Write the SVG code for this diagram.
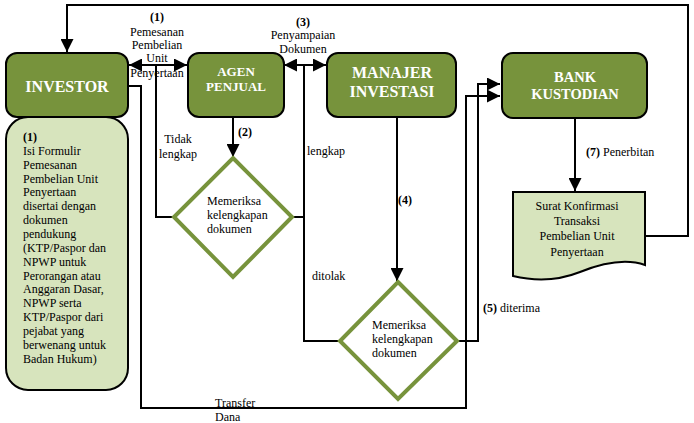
<svg xmlns="http://www.w3.org/2000/svg" width="694" height="423" viewBox="0 0 694 423" font-family="'Liberation Serif', 'Times New Roman', 'DejaVu Serif', serif">
<defs>
<style>
.box{fill:#77933C;stroke:#000;stroke-width:2}
.lite{fill:#D7E4BD;stroke:#000;stroke-width:2}
.dia{fill:#fff;stroke:#77933C;stroke-width:4}
.ln{fill:none;stroke:#000;stroke-width:2}
.hd{font-weight:bold;fill:#fff;text-anchor:middle}
.t{font-size:12px;fill:#000}
.c{text-anchor:middle}
.b{font-weight:bold}
</style>
<marker id="ah" viewBox="0 0 12 12" refX="12" refY="6" markerWidth="13" markerHeight="13" markerUnits="userSpaceOnUse" orient="auto-start-reverse">
<path d="M0,0 L12,6 L0,12 Z" fill="#000"/>
</marker>
</defs>
<g id="connectors">
<path class="ln" d="M642,236 H688 V5 H67 V52" marker-end="url(#ah)"/>
<path class="ln" d="M129,65 H187" marker-start="url(#ah)" marker-end="url(#ah)"/>
<path class="ln" d="M284,65 H326" marker-start="url(#ah)" marker-end="url(#ah)"/>
<path class="ln" d="M233,118 V157" marker-end="url(#ah)"/>
<path class="ln" d="M175,217 H156 V65"/>
<path class="ln" d="M291,217 H304 V65"/>
<path class="ln" d="M304,217 V341 H339"/>
<path class="ln" d="M397,118 V281" marker-end="url(#ah)"/>
<path class="ln" d="M457,341 H478 V84 H500" marker-end="url(#ah)"/>
<path class="ln" d="M129,86 H141 V408 H466 V96 H500" marker-end="url(#ah)"/>
<path class="ln" d="M575,118 V191" marker-end="url(#ah)"/>
</g>
<g id="investor">
<rect class="box" x="6" y="53" width="122" height="64" rx="11"/>
<text class="hd" x="67" y="92" font-size="16">INVESTOR</text>
</g>
<g id="investor-note">
<rect class="lite" x="6" y="117" width="122" height="273" rx="22"/>
<text class="t" x="23" y="141"><tspan class="b">(1)</tspan><tspan x="23" dy="13.85">Isi Formulir</tspan><tspan x="23" dy="13.85">Pemesanan</tspan><tspan x="23" dy="13.85">Pembelian Unit</tspan><tspan x="23" dy="13.85">Penyertaan</tspan><tspan x="23" dy="13.85">disertai dengan</tspan><tspan x="23" dy="13.85">dokumen</tspan><tspan x="23" dy="13.85">pendukung</tspan><tspan x="23" dy="13.85">(KTP/Paspor dan</tspan><tspan x="23" dy="13.85">NPWP untuk</tspan><tspan x="23" dy="13.85">Perorangan atau</tspan><tspan x="23" dy="13.85">Anggaran Dasar,</tspan><tspan x="23" dy="13.85">NPWP serta</tspan><tspan x="23" dy="13.85">KTP/Paspor dari</tspan><tspan x="23" dy="13.85">pejabat yang</tspan><tspan x="23" dy="13.85">berwenang untuk</tspan><tspan x="23" dy="13.85">Badan Hukum)</tspan></text>
</g>
<g id="agen">
<rect class="box" x="188" y="53" width="96" height="64" rx="11"/>
<text class="hd" x="236" y="76" font-size="13">AGEN</text>
<text class="hd" x="236" y="91" font-size="13">PENJUAL</text>
</g>
<g id="manajer">
<rect class="box" x="327" y="53" width="129" height="64" rx="11"/>
<text class="hd" x="392" y="78" font-size="16">MANAJER</text>
<text class="hd" x="392" y="97" font-size="16">INVESTASI</text>
</g>
<g id="bank">
<rect class="box" x="502" y="53" width="145" height="65" rx="11"/>
<text class="hd" x="575" y="82" font-size="14.5">BANK</text>
<text class="hd" x="575" y="99" font-size="14.5">KUSTODIAN</text>
</g>
<g id="cek1">
<path class="dia" d="M233,158 L292,217 L233,277 L174,217 Z"/>
<text class="t" x="207" y="205">Memeriksa</text>
<text class="t" x="207" y="219">kelengkapan</text>
<text class="t" x="207" y="233">dokumen</text>
</g>
<g id="cek2">
<path class="dia" d="M398,282 L457,341 L398,399 L340,341 Z"/>
<text class="t" x="372" y="329">Memeriksa</text>
<text class="t" x="372" y="343">kelengkapan</text>
<text class="t" x="372" y="357">dokumen</text>
</g>
<g id="surat">
<path class="lite" d="M513,192 H645 V265 C625,258 600,264 580,272 C560,280 538,282 513,276 Z"/>
<text class="t c" font-size="13" x="577" y="210">Surat Konfirmasi</text>
<text class="t c" font-size="13" x="577" y="225">Transaksi</text>
<text class="t c" font-size="13" x="577" y="240">Pembelian Unit</text>
<text class="t c" font-size="13" x="577" y="256">Penyertaan</text>
</g>
<g id="labels">
<text class="t c b" x="157" y="21">(1)</text>
<text class="t c" x="157" y="36">Pemesanan</text>
<text class="t c" x="157" y="49">Pembelian</text>
<text class="t c" x="157" y="62">Unit</text>
<text class="t c" x="157" y="77">Penyertaan</text>
<text class="t c b" x="303" y="26">(3)</text>
<text class="t c" x="303" y="39">Penyampaian</text>
<text class="t c" x="303" y="53">Dokumen</text>
<text class="t c" x="178" y="143">Tidak</text>
<text class="t c" x="178" y="158">lengkap</text>
<text class="t" x="307" y="155">lengkap</text>
<text class="t c b" x="245" y="136">(2)</text>
<text class="t" x="586" y="156"><tspan class="b">(7)</tspan> Penerbitan</text>
<text class="t b" x="398" y="204">(4)</text>
<text class="t" x="483" y="312"><tspan class="b">(5)</tspan> diterima</text>
<text class="t" x="312" y="280">ditolak</text>
<text class="t" x="215" y="407">Transfer</text>
<text class="t" x="215" y="421">Dana</text>
</g>
</svg>
